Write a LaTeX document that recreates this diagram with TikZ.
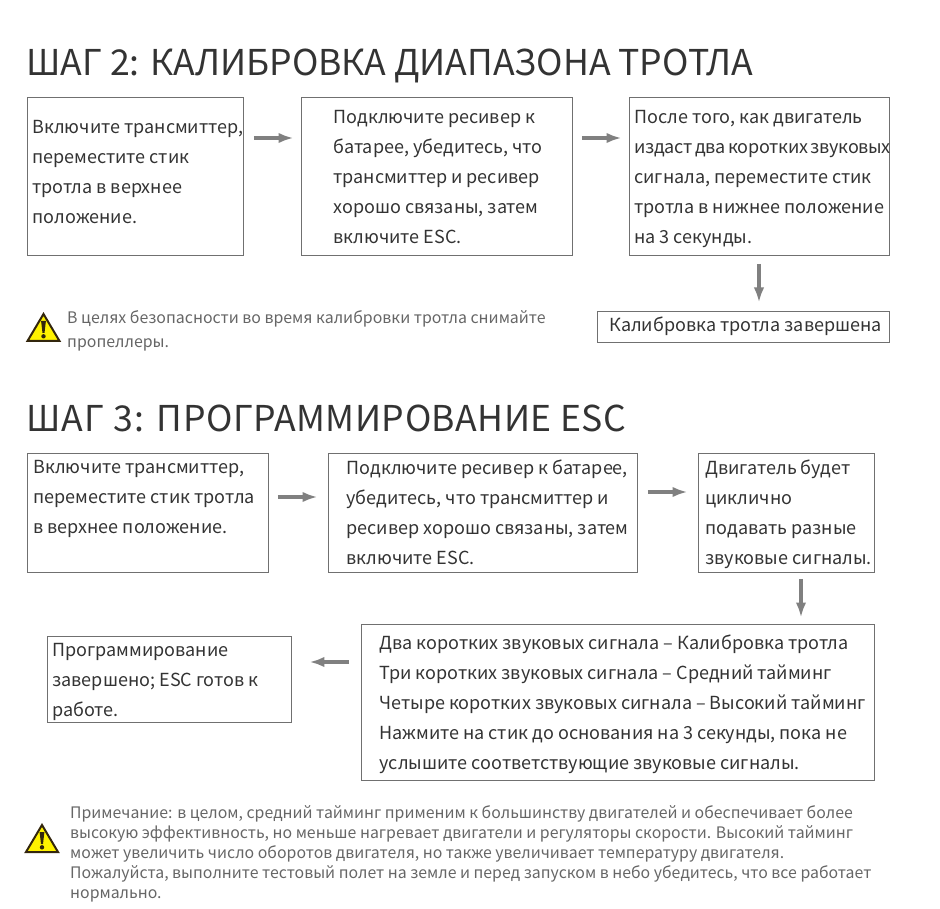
\documentclass[tikz,border=0pt]{standalone}
\usepackage{fontspec}
\setmainfont{Noto Sans CJK SC}
\usetikzlibrary{calc,arrows.meta}
\definecolor{ink}{HTML}{333333}
\definecolor{note}{HTML}{666666}
\definecolor{edge}{HTML}{707070}
\definecolor{arrowgrey}{HTML}{808080}
\definecolor{warnyellow}{HTML}{FFF200}
\definecolor{warndark}{HTML}{33260D}
\tikzset{
 x=1pt,y=-1pt,
 boxnode/.style={draw=edge,line width=0.9pt,inner sep=0pt,text=ink,font=\fontsize{18}{30}\selectfont,anchor=north west},
 flowarrow/.style={draw=arrowgrey,line width=3.3pt,-{Latex[length=15pt,width=10.5pt]}},
 titletext/.style={anchor=base west,inner sep=0pt,text=ink,font=\fontsize{35.6}{40}\selectfont},
 notetext/.style={anchor=north west,inner sep=0pt,text=note,align=left},
}
% name x0 y0 x1 y1 leftpad firstbaseline text
\newcommand{\tbox}[8]{%
 \pgfmathsetlengthmacro{\bw}{#4-#2}\pgfmathsetlengthmacro{\bh}{#5-#3}%
 \node[boxnode] (#1) at (#2,#3) {\parbox[c][\bh][t]{\bw}{\leftskip=#6pt\relax\rightskip=-60pt plus 1fil\relax\parindent=0pt\baselineskip=30pt\lineskip=0pt\lineskiplimit=-100pt\vspace*{\dimexpr#7pt-14pt\relax}\rule{0pt}{14pt}#8}};}
\newcommand{\warnicon}[3]{%
 \begin{scope}[shift={(#2,#3)}]
 \path[fill=warnyellow,draw=warndark,line width=2pt,line join=miter] (0,-13) -- (16,14) -- (-16,14) -- cycle;
 \path[fill=warndark] (-2.4,-6) -- (2.4,-6) -- (1,6) -- (-1,6) -- cycle;
 \path[fill=warndark] (0,9.3) circle (2.2);
 \coordinate (#1) at (0,0);
 \end{scope}}
\begin{document}
\begin{tikzpicture}
\useasboundingbox (0,0) rectangle (940,909);
\node[titletext] (t2) at (26,76) {ШАГ 2: КАЛИБРОВКА ДИАПАЗОНА ТРОТЛА};
\node[titletext] (t3) at (26,431) {{\addfontfeature{LetterSpace=3.5}ШАГ 3: }{\addfontfeature{LetterSpace=1.4}ПРОГРАММИРОВАНИЕ ESC}};

\tbox{a}{27}{97}{243}{255}{5}{36.5}{Включите трансмиттер,\\переместите стик\\тротла в верхнее\\положение.}
\tbox{b}{301}{97}{572}{255}{32}{26.5}{Подключите ресивер к\\батарее, убедитесь, что\\трансмиттер и ресивер\\хорошо связаны, затем\\включите ESC.}
\tbox{c}{629}{97}{889}{255}{5}{26.5}{После того, как двигатель\\{\spaceskip=2.5pt\addfontfeature{LetterSpace=-1.5}издаст два коротких звуковых}\\сигнала, переместите стик\\тротла в нижнее положение\\на 3 секунды.}
\tbox{d}{597}{311}{889}{342}{12}{19}{Калибровка тротла завершена}

\tbox{e}{27}{453}{268}{572}{6}{20}{Включите трансмиттер,\\переместите стик тротла\\в верхнее положение.}
\tbox{f}{328}{453}{637}{572}{18}{20}{Подключите ресивер к батарее,\\убедитесь, что трансмиттер и\\ресивер хорошо связаны, затем\\включите ESC.}
\tbox{g}{698}{453}{874}{572}{7}{20}{Двигатель будет\\циклично\\подавать разные\\звуковые сигналы.}
\tbox{h}{361}{624}{874}{780}{18}{24}{Два коротких звуковых сигнала – Калибровка тротла\\Три коротких звуковых сигнала – Средний тайминг\\Четыре коротких звуковых сигнала – Высокий тайминг\\Нажмите на стик до основания на 3 секунды, пока не\\услышите соответствующие звуковые сигналы.}
\tbox{k}{47}{636}{291}{722}{5}{20}{Программирование\\завершено; ESC готов к\\работе.}

\draw[flowarrow] ($(a.north east)+(10,41)$) -- ($(b.north west)+(-7.5,41)$);
\draw[flowarrow] ($(b.north east)+(9,41)$) -- ($(c.north west)+(-7.5,41)$);
\draw[flowarrow] ($(c.south west)+(130,8)$) -- ($(d.north west)+(162,-8.5)$);
\draw[flowarrow] ($(e.north east)+(9,44)$) -- ($(f.north west)+(-10.5,44)$);
\draw[flowarrow] ($(f.north east)+(10,39)$) -- ($(g.north west)+(-10.5,39)$);
\draw[flowarrow] ($(g.south west)+(103,6)$) -- ($(h.north west)+(440,-6.5)$);
\draw[flowarrow] ($(h.north west)+(-12,38)$) -- ($(k.north east)+(17.5,26)$);

\warnicon{w1}{43.5}{327}
\warnicon{w2}{42}{838}
\node[notetext,font=\fontsize{15.9}{24}\selectfont] (n1) at (67,310) {В целях безопасности во время калибровки тротла снимайте\\пропеллеры.};
\node[notetext,font=\fontsize{15.85}{20}\selectfont] (n2) at (70,805) {Примечание: в целом, средний тайминг применим к большинству двигателей и обеспечивает более\\высокую эффективность, но меньше нагревает двигатели и регуляторы скорости. Высокий тайминг\\может увеличить число оборотов двигателя, но также увеличивает температуру двигателя.\\Пожалуйста, выполните тестовый полет на земле и перед запуском в небо убедитесь, что все работает\\нормально.};
\end{tikzpicture}
\end{document}
